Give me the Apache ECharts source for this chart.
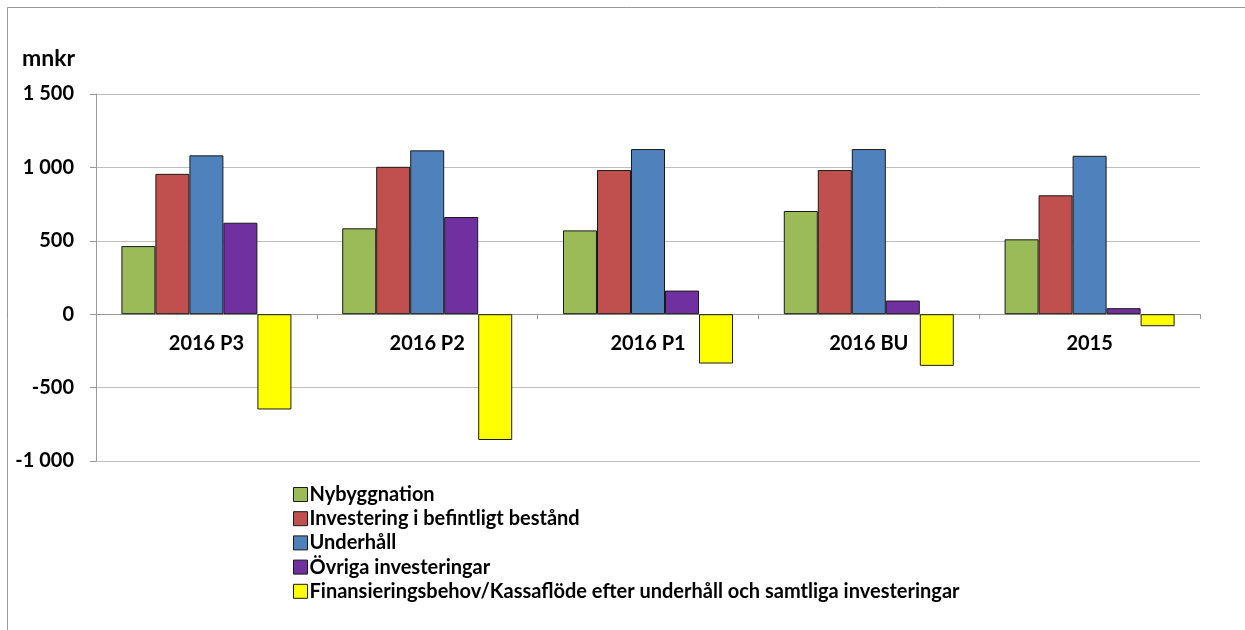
<!DOCTYPE html>
<html>
<head>
<meta charset="utf-8">
<script src="https://cdn.jsdelivr.net/npm/echarts@6/dist/echarts.min.js"></script>
<style>
  html, body { margin: 0; padding: 0; background: #fff; }
  #chart { width: 1245px; height: 630px; }
</style>
</head>
<body>
<div id="chart"></div>
<script>
var categories = ["2016 P3", "2016 P2", "2016 P1", "2016 BU", "2015"];
var nybyggnation = [464, 585, 571, 703, 510];
var investering = [956, 1004, 982, 982, 810];
var underhall = [1082, 1116, 1125, 1125, 1079];
var ovriga = [623, 662, 161, 93, 41];
var finansiering = [-649, -857, -336, -352, -82];
var yMin = -1000;
var yMax = 1500;
var yStep = 500;
var seriesNames = [
  "Nybyggnation",
  "Investering i befintligt bestånd",
  "Underhåll",
  "Övriga investeringar",
  "Finansieringsbehov/Kassaflöde efter underhåll och samtliga investeringar"
];
var colors = ["#9bbb59", "#c0504d", "#4f81bd", "#7030a0", "#ffff00"];

var font = "Lato, 'Open Sans', sans-serif";
var gridTop = 94;
var gridBottom = 169;

// tusental med mellanslag, t.ex. "1 500"
function fmt(v) {
  var s = String(Math.abs(v)).replace(/\B(?=(\d{3})+(?!\d))/g, " ");
  return (v < 0 ? "-" : "") + s;
}

var chart = echarts.init(document.getElementById("chart"));

// x-axeln ska ligga på nollan
var plotH = 630 - gridTop - gridBottom;
var zeroOffset = -plotH * (0 - yMin) / (yMax - yMin);

function bar(name, data, color) {
  return {
    name: name,
    type: "bar",
    data: data,
    barGap: "0%",
    barCategoryGap: "23%",
    itemStyle: { color: color, borderColor: "#1a1a1a", borderWidth: 1 }
  };
}

var option = {
  animation: false,
  textStyle: { fontFamily: font },
  graphic: [
    {
      type: "rect",
      shape: { x: 7.5, y: 7.5, width: 1245, height: 630 },
      style: { fill: "none", stroke: "#999", lineWidth: 1 }
    },
    {
      type: "text",
      style: {
        x: 22,
        y: 59,
        text: "mnkr",
        font: "bold 23px " + font,
        fill: "#000",
        verticalAlign: "middle"
      }
    }
  ],
  grid: { left: 96, right: 45, top: gridTop, bottom: gridBottom },
  legend: {
    orient: "vertical",
    left: 288,
    top: 479.5,
    height: 160,
    itemWidth: 14,
    itemHeight: 14,
    itemGap: 4.2,
    icon: "rect",
    data: seriesNames,
    itemStyle: { borderColor: "#1a1a1a", borderWidth: 1 },
    textStyle: { fontFamily: font, fontWeight: "bold", fontSize: 20, color: "#000", padding: [0, 0, 0, -3] }
  },
  xAxis: {
    type: "category",
    data: categories,
    position: "bottom",
    offset: zeroOffset,
    axisLine: { onZero: false, lineStyle: { color: "#999" } },
    axisTick: { show: true, length: 5, lineStyle: { color: "#999" } },
    axisLabel: { margin: 19, fontFamily: font, fontWeight: "bold", fontSize: 20, color: "#000" }
  },
  yAxis: {
    type: "value",
    min: yMin,
    max: yMax,
    interval: yStep,
    axisLine: { show: true, lineStyle: { color: "#999" } },
    axisTick: { show: true, length: 6, lineStyle: { color: "#999" } },
    splitLine: { show: true, lineStyle: { color: "#bfbfbf" } },
    axisLabel: { margin: 22, fontFamily: font, fontWeight: "bold", fontSize: 20, color: "#000", formatter: fmt }
  },
  series: [
    bar(seriesNames[0], nybyggnation, colors[0]),
    bar(seriesNames[1], investering, colors[1]),
    bar(seriesNames[2], underhall, colors[2]),
    bar(seriesNames[3], ovriga, colors[3]),
    bar(seriesNames[4], finansiering, colors[4])
  ]
};

chart.setOption(option);
</script>
</body>
</html>
